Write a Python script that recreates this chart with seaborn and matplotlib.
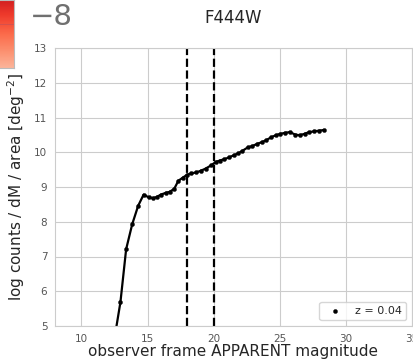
import matplotlib.pyplot as plt
import pandas as pd
import seaborn as sns
import numpy as np

# apparent magnitude bins and log number counts
mag = [12.54, 12.95, 13.38, 13.84, 14.29, 14.70, 15.10, 15.40, 15.68, 16.00,
       16.36, 16.67, 17.02, 17.33, 17.67, 17.98, 18.28, 18.69, 19.04, 19.39,
       19.80, 20.15, 20.45, 20.80, 21.16, 21.50, 21.87, 22.17, 22.58, 22.93,
       23.28, 23.64, 23.99, 24.34, 24.70, 25.05, 25.40, 25.76, 26.16, 26.50,
       26.87, 27.22, 27.58, 27.93, 28.33]
logn = [4.74, 5.69, 7.21, 7.93, 8.46, 8.78, 8.70, 8.68, 8.71, 8.78,
        8.83, 8.86, 8.95, 9.18, 9.27, 9.35, 9.39, 9.42, 9.47, 9.53,
        9.62, 9.72, 9.76, 9.80, 9.85, 9.91, 9.97, 10.04, 10.14, 10.18,
        10.24, 10.29, 10.35, 10.43, 10.49, 10.53, 10.56, 10.58, 10.51, 10.49,
        10.53, 10.58, 10.60, 10.62, 10.64]
mag_cuts = [18, 20]
band = 'F444W'
z_label = 'z = 0.04'

df = pd.DataFrame({'mag': mag, 'logn': logn})

sns.set_style('whitegrid')
fig = plt.figure(figsize=(4.13, 3.59), dpi=100)

# leftover of the neighbouring panel (colorbar corner and its tick label)
cax = fig.add_axes([-0.04, 0.81, 0.075, 0.19])
grad = np.linspace(1, 0, 50).reshape(-1, 1)
cax.imshow(grad, aspect='auto', cmap='Reds', vmin=-0.6, vmax=1.6, origin='upper')
cax.axhline(17, color='#d05050', lw=0.6)
cax.set_xticks([])
cax.set_yticks([])
for s in cax.spines.values():
    s.set_color('#bbbbbb')
fig.text(0.072, 0.993, '\u22128', fontsize=21, color='#707070', va='top', ha='left')

ax = fig.add_axes([55 / 413, 33 / 359, 357 / 413, 278 / 359])
sns.lineplot(data=df, x='mag', y='logn', color='black', lw=1.6, ax=ax)
sns.scatterplot(data=df, x='mag', y='logn', color='black', s=9, edgecolor='black',
                label=z_label, ax=ax, zorder=3)
for m in mag_cuts:
    ax.axvline(m, color='black', ls='--', lw=1.6)

ax.set_xlim(8, 35)
ax.set_ylim(5, 13)
ax.set_xticks([10, 15, 20, 25, 30, 35])
ax.tick_params(labelsize=7.5, colors='#555555', pad=2)
ax.set_title(band, fontsize=12, pad=18)
ax.set_xlabel('observer frame APPARENT magnitude', fontsize=11, labelpad=0)
ax.set_ylabel('log counts / dM / area [deg$^{-2}$]', fontsize=11, labelpad=5)
ax.legend(loc='lower right', fontsize=8)

fig.savefig('out.png', dpi=100)
